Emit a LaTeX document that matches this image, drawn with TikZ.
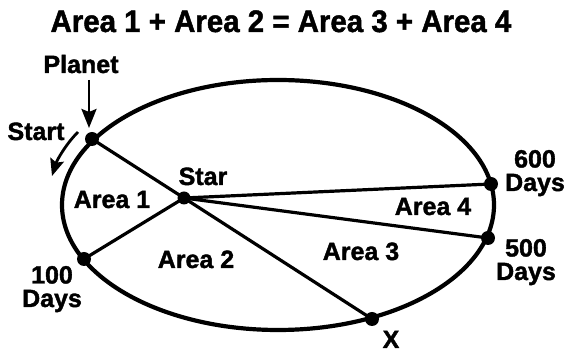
\documentclass[tikz,border=0pt]{standalone}
\usepackage{fontspec}
\setmainfont{Liberation Sans}[BoldFeatures={FakeBold=1.5}]
\usetikzlibrary{arrows.meta}
\tikzset{
  lab/.style={font=\fontsize{25}{23.5}\selectfont\bfseries, anchor=base, inner sep=0pt, align=center},
  dot/.style={circle, fill=black, inner sep=0pt, minimum size=14pt},
  orbit/.style={line width=4.2pt},
  ray/.style={line width=3.2pt},
  pointer/.style={line width=2.8pt, -{Stealth[length=19pt, width=15pt, inset=3pt]}},
}
\begin{document}
\begin{tikzpicture}[x=1pt, y=-1pt]
\useasboundingbox (0,0) rectangle (566,352);
% orbit
\draw[orbit] (278,205) ellipse [x radius=216pt, y radius=125pt];
% positions
\coordinate (P) at (92,139);
\coordinate (S) at (184,198);
\coordinate (D1) at (84,259);
\coordinate (X) at (372,319);
\coordinate (D5) at (488,238);
\coordinate (D6) at (491,184);
% rays
\draw[ray] (P) -- (S);
\draw[ray] (S) -- (X);
\draw[ray] (S) -- (D1);
\draw[ray] (S) -- (D6);
\draw[ray] (S) -- (D5);
% dots
\node[dot] (Pd) at (P) {};
\node[dot, minimum size=13pt] (Sd) at (S) {};
\node[dot] (D1d) at (D1) {};
\node[dot] (Xd) at (X) {};
\node[dot] (D5d) at (D5) {};
\node[dot] (D6d) at (D6) {};
% title
\node[lab, font=\fontsize{31}{31}\selectfont\bfseries, xscale=0.95] (title) at (281,32) {Area 1 + Area 2 = Area 3 + Area 4};
% labels
\node[lab] (planet) at (81,73) {Planet};
\node[lab] (start) at (36,140) {Start};
\node[lab] (star) at (203,185) {Star};
\node[lab] (a1) at (112,208) {Area 1};
\node[lab] (a2) at (196,268) {Area 2};
\node[lab] (a3) at (361,260) {Area 3};
\node[lab] (a4) at (433,215) {Area 4};
\node[lab] (l6) at (535,191) {600\\Days};
\node[lab] (l5) at (526,280) {500\\Days};
\node[lab] (l1) at (52,307) {100\\Days};
\node[lab] (lx) at (391,348) {X};
% arrows
\coordinate (pa) at (89,80);
\coordinate (pb) at (89,128);
\draw[pointer] (pa) -- (pb);
\coordinate (sa) at (78,132);
\coordinate (sb) at (52,176);
\draw[pointer, -{Stealth[length=17pt, width=14pt, inset=3pt]}] (sa) .. controls (66,144) and (57,160) .. (sb);
\end{tikzpicture}
\end{document}
